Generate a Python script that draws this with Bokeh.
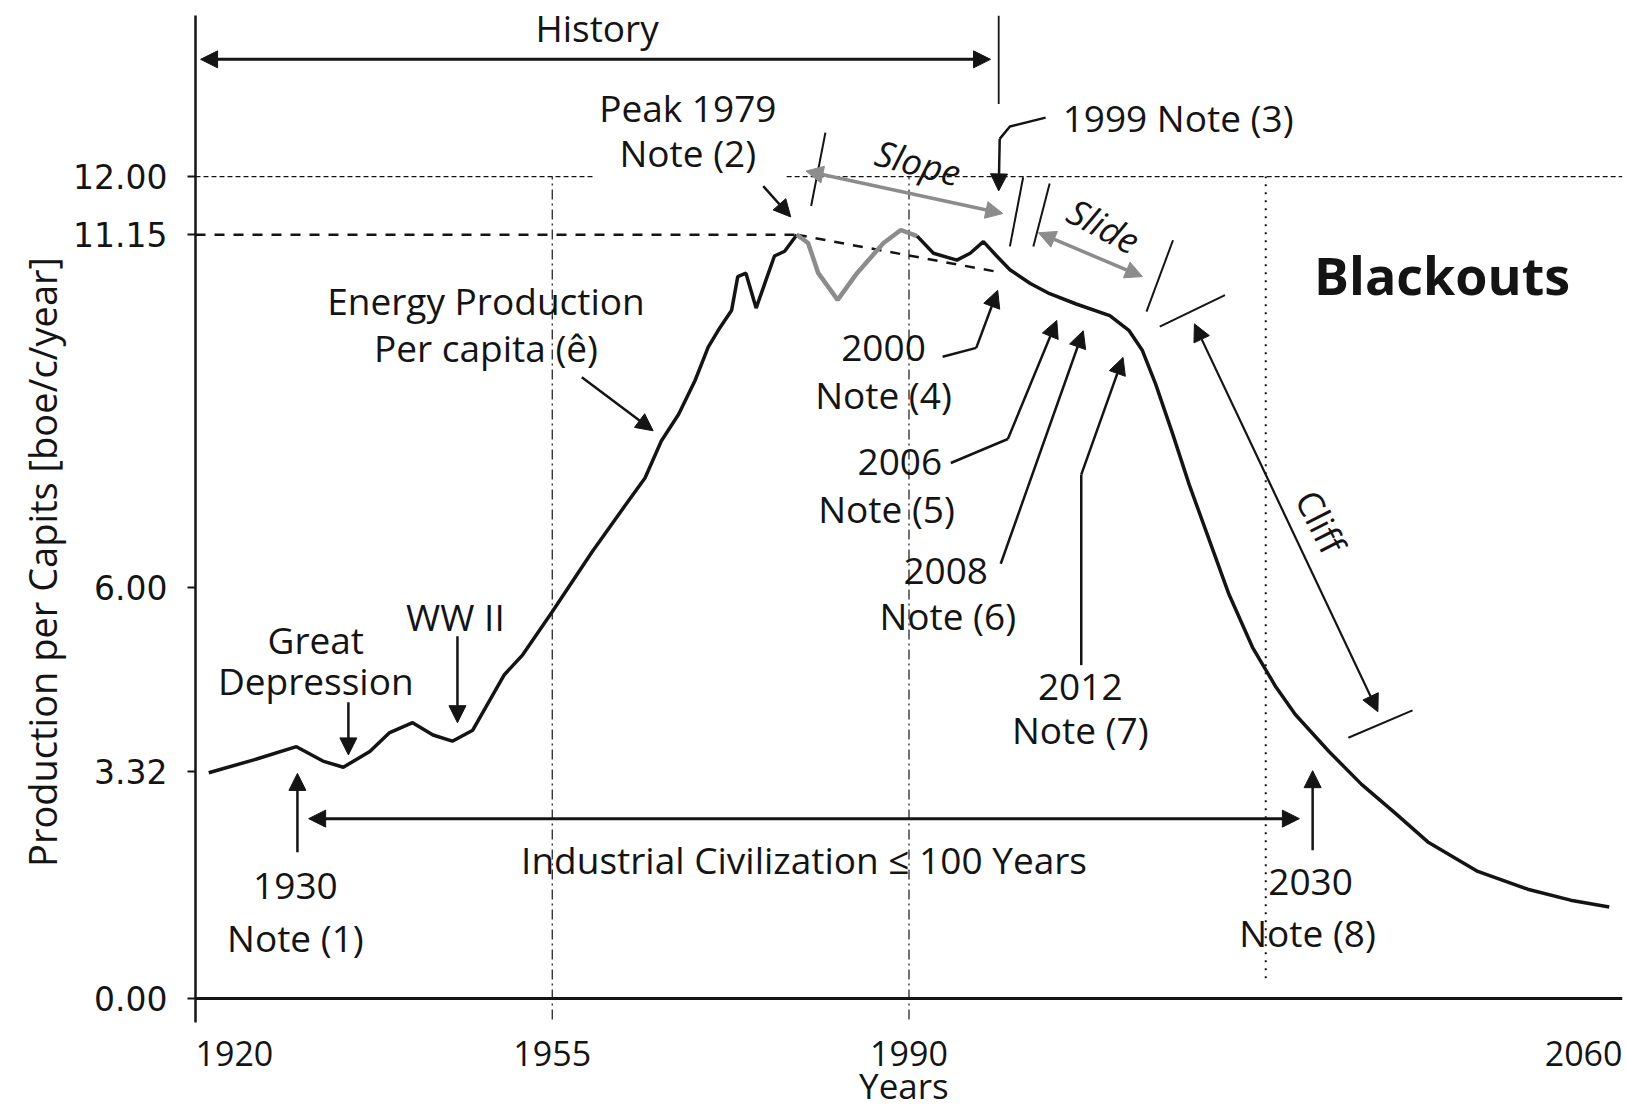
from bokeh.plotting import figure
from bokeh.models import FixedTicker, NumeralTickFormatter, Label, Arrow, NormalHead
from bokeh.embed import file_html
from bokeh.resources import INLINE

# ---------------- data ----------------
# Energy production per capita (boe/c/year) – historical part up to the 1979 peak
hist_years = [1921.3, 1926.0, 1929.9, 1932.5, 1934.5, 1937.1, 1939.0, 1941.3, 1943.3, 1945.2,
              1947.2, 1950.3, 1952.1, 1955.0, 1958.9, 1962.2, 1964.1, 1965.7, 1967.4, 1969.0,
              1970.3, 1971.3, 1972.6, 1973.2, 1974.0, 1975.0, 1976.8, 1977.8, 1979.0]
hist_vals = [3.30, 3.50, 3.68, 3.47, 3.38, 3.61, 3.88, 4.03, 3.85, 3.76,
             3.92, 4.73, 5.02, 5.65, 6.52, 7.21, 7.60, 8.14, 8.53, 9.02,
             9.51, 9.76, 10.05, 10.54, 10.59, 10.08, 10.84, 10.91, 11.15]

# grey part after the peak (1979-1990)
grey_years = [1979.0, 1980.1, 1981.1, 1983.0, 1984.9, 1987.5, 1989.2, 1990.8]
grey_vals = [11.15, 11.03, 10.59, 10.20, 10.59, 11.03, 11.22, 11.13]

# slope / slide / cliff part (1990-2060)
fut_years = [1990.8, 1992.4, 1994.7, 1996.0, 1997.3, 1998.6, 1999.9, 2001.9, 2003.8, 2006.4,
             2009.7, 2011.6, 2012.9, 2014.2, 2015.9, 2017.5, 2019.4, 2021.4, 2023.7, 2026.0,
             2027.9, 2031.2, 2034.4, 2037.7, 2040.9, 2045.8, 2050.7, 2054.9, 2058.7]
fut_vals = [11.13, 10.88, 10.78, 10.88, 11.05, 10.84, 10.64, 10.44, 10.29, 10.14,
            9.97, 9.75, 9.46, 8.97, 8.23, 7.50, 6.72, 5.90, 5.13, 4.55,
            4.15, 3.61, 3.13, 2.71, 2.29, 1.86, 1.60, 1.44, 1.34]

# dashed trend of the "slope" (1979 -> 1999)
trend_years = [1979.0, 1999.0]
trend_vals = [11.15, 10.60]

peak_value = 11.15
peak_year = 1979
top_level = 12.0

x_ticks = [1920, 1955, 1990, 2060]
x_tick_labels = ["1920", "1955", "1990", "2060"]
y_ticks = [0, 3.32, 6, 11.15, 12]

FONT = "Open Sans"
INK = "#141414"
GREY = "#8c8c8c"

p = figure(width=1626, height=1112, x_range=(1920, 2060), y_range=(-1.6, 14.35),
           output_backend="svg", toolbar_location=None,
           min_border_left=195, min_border_right=4, min_border_top=15, min_border_bottom=4)
p.background_fill_color = "white"
p.border_fill_color = "white"
p.outline_line_color = None
p.grid.visible = False

# ---- axes ----
p.yaxis.ticker = FixedTicker(ticks=y_ticks)
p.yaxis.formatter = NumeralTickFormatter(format="0.00")
p.yaxis.bounds = (-0.35, 14.35)
p.yaxis.major_label_text_font = "DejaVu Sans"
p.yaxis.major_label_text_font_size = "33px"
p.yaxis.major_label_text_color = INK
p.yaxis.major_label_standoff = 20
p.yaxis.major_tick_out = 8
p.yaxis.major_tick_in = 0
p.yaxis.minor_tick_line_color = None
p.yaxis.axis_line_width = 2.5
p.yaxis.axis_line_color = INK
p.yaxis.major_tick_line_color = INK
p.yaxis.major_tick_line_width = 2
p.yaxis.axis_label = "Production per Capits [boe/c/year]"
p.yaxis.axis_label_text_font = FONT
p.yaxis.axis_label_text_font_size = "38px"
p.yaxis.axis_label_text_font_style = "normal"
p.yaxis.axis_label_text_color = INK
p.yaxis.axis_label_standoff = 2

p.xaxis.fixed_location = 0
p.xaxis.ticker = FixedTicker(ticks=x_ticks)
p.xaxis.major_label_text_font_size = "0px"
p.xaxis.major_label_text_color = None
p.xaxis.major_label_standoff = 0
p.xaxis.major_tick_out = 0
p.xaxis.major_tick_in = 0
p.xaxis.minor_tick_line_color = None
p.xaxis.axis_line_width = 3
p.xaxis.axis_line_color = INK

# x tick labels (1920 left aligned, 2060 right aligned as in the original)
aligns = ["left", "center", "center", "right"]
for xt, lab, al in zip(x_ticks, x_tick_labels, aligns):
    p.add_layout(Label(x=xt, y=-0.80, text=lab, text_font=FONT, text_font_size="34px",
                       text_align=al, text_baseline="middle", text_color=INK))

# x-axis title
p.add_layout(Label(x=1989.5, y=-1.27, text="Years", text_font=FONT, text_font_size="35px",
                   text_align="center", text_baseline="middle", text_color=INK))

# ---- reference lines ----
p.segment(x0=[1920, 1978], y0=[top_level, top_level], x1=[1959, 2060], y1=[top_level, top_level],
          line_color=INK, line_width=1.3, line_dash="5 3")
p.segment(x0=[1955, 1990], y0=[-0.3, -0.3], x1=[1955, 1990], y1=[top_level, top_level],
          line_color=INK, line_width=1.2, line_dash="10 4 2 4")
p.segment(x0=[2025], y0=[0.3], x1=[2025], y1=[top_level], line_color=INK, line_width=2,
          line_dash="2 6")
p.segment(x0=[1920], y0=[peak_value], x1=[peak_year], y1=[peak_value], line_color=INK,
          line_width=2.5, line_dash="10 9")
p.line(trend_years, trend_vals, line_color=INK, line_width=2.5, line_dash="10 9")

# ---- the curve ----
p.line(hist_years, hist_vals, line_color=INK, line_width=3.5)
p.line(grey_years, grey_vals, line_color=GREY, line_width=4.5)
p.line(fut_years, fut_vals, line_color=INK, line_width=3.5)


# ---- annotation helpers ----
def txt(x, y, s, size=37, align="center", angle=0.0, style="normal", color=INK):
    p.add_layout(Label(x=x, y=y, text=s, text_font=FONT, text_font_size=f"{size}px",
                       text_align=align, text_baseline="middle", angle=angle,
                       text_font_style=style, text_color=color))


def head(color):
    return NormalHead(size=17, fill_color=color, line_color=color, line_width=1)


def arrow(x0, y0, x1, y1, both=False, color=INK, width=2.5):
    p.add_layout(Arrow(start=head(color) if both else None, end=head(color),
                       x_start=x0, y_start=y0, x_end=x1, y_end=y1,
                       line_color=color, line_width=width))


def seg(xs, ys, color=INK, width=2.5):
    p.line(xs, ys, line_color=color, line_width=width)


# History
txt(1959.4, 14.18, "History")
arrow(1920.5, 13.71, 1998.0, 13.71, both=True, width=3)
seg([1998.8, 1998.8], [13.06, 14.35], width=1.8)

# Peak 1979
txt(1968.3, 13.01, "Peak 1979")
txt(1968.3, 12.35, "Note (2)")
arrow(1975.7, 11.86, 1978.4, 11.41)

# 1999 Note (3)
txt(2016.4, 12.86, "1999 Note (3)")
seg([2003.4, 1999.9, 1998.9], [12.86, 12.73, 12.55])
arrow(1998.9, 12.55, 1998.8, 11.79)

# Slope
txt(1990.9, 12.20, "Slope", size=36, angle=-0.26, style="italic")
arrow(1979.9, 12.08, 1999.2, 11.46, both=True, color=GREY, width=3.5)
seg([1981.8, 1980.4], [12.64, 11.57], width=2)
seg([2001.2, 1999.9], [11.99, 10.98], width=2)
seg([2003.8, 2002.2], [11.90, 10.98], width=2)

# Slide
txt(2009.1, 11.28, "Slide", size=36, angle=-0.49, style="italic")
arrow(2002.7, 11.18, 2012.9, 10.54, both=True, color=GREY, width=3.5)
seg([2015.9, 2013.3], [11.07, 10.03], width=2)

# Blackouts
txt(2042.3, 10.57, "Blackouts", size=52, style="bold")

# Cliff
seg([2014.6, 2021.0], [9.81, 10.27], width=2)
arrow(2018.0, 9.85, 2036.0, 4.19, both=True, width=2.2)
seg([2033.1, 2039.4], [3.81, 4.21], width=2)
txt(2030.4, 6.96, "Cliff", size=36, angle=-1.1)

# Energy production label
txt(1948.5, 10.19, "Energy Production")
txt(1948.5, 9.50, "Per capita (ê)")
arrow(1957.9, 9.07, 1964.9, 8.29)

# Great Depression / WW II
txt(1931.8, 5.25, "Great")
txt(1931.8, 4.65, "Depression")
arrow(1935.0, 4.33, 1935.0, 3.56)
txt(1945.5, 5.58, "WW II")
arrow(1945.7, 5.29, 1945.7, 4.03)

# 1930 Note (1)
txt(1929.8, 1.64, "1930")
txt(1929.8, 0.89, "Note (1)")
arrow(1930.0, 2.14, 1930.0, 3.29)

# Industrial Civilization
arrow(1931.1, 2.63, 2028.3, 2.63, both=True, width=3)
txt(1979.7, 2.04, "Industrial Civilization \u2264 100 Years")

# 2030 Note (8)
txt(2029.4, 1.71, "2030")
txt(2029.1, 0.97, "Note (8)")
arrow(2029.6, 2.17, 2029.6, 3.33)

# 2000 Note (4)
txt(1987.5, 9.50, "2000")
txt(1987.5, 8.82, "Note (4)")
seg([1993.3, 1996.6], [9.37, 9.50])
arrow(1996.6, 9.50, 1998.7, 10.34)

# 2006 Note (5)
txt(1989.1, 7.84, "2006")
txt(1987.8, 7.16, "Note (5)")
seg([1994.1, 1999.7], [7.82, 8.17])
arrow(1999.7, 8.17, 2004.5, 9.90)

# 2008 Note (6)
txt(1993.6, 6.24, "2008")
txt(1993.8, 5.59, "Note (6)")
arrow(1999.0, 6.35, 2007.1, 9.75)

# 2012 Note (7)
txt(2006.8, 4.55, "2012")
txt(2006.8, 3.93, "Note (7)")
seg([2006.9, 2006.9], [4.87, 7.65])
arrow(2006.9, 7.65, 2011.0, 9.36)

open("out.html", "w").write(file_html(p, INLINE))
